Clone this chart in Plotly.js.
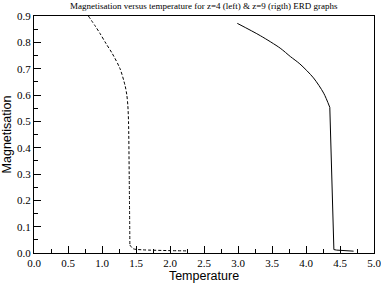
<!DOCTYPE html>
<html>
<head>
<meta charset="utf-8">
<script src="https://cdn.plot.ly/plotly-3.0.1.min.js"></script>
<style>html,body{margin:0;padding:0;background:#fff;}#chart{width:381px;height:283px;}</style>
</head>
<body>
<div id="chart"></div>
<script>
// z=4 (left, dashed): smooth branch, then the tail after the drop
const tempZ4 = [0.80, 0.90, 0.97, 1.06, 1.15, 1.265, 1.34, 1.365, 1.38, 1.39, 1.40, 1.41];
const magZ4  = [0.90, 0.862, 0.834, 0.795, 0.758, 0.700, 0.635, 0.600, 0.560, 0.500, 0.300, 0.030];
const tempZ4Tail = [1.41, 1.46, 1.60, 2.00, 2.25];
const magZ4Tail  = [0.030, 0.016, 0.012, 0.009, 0.008];
// z=9 (right, solid): smooth branch, then the drop and tail
const tempZ9 = [2.99, 3.33, 3.62, 3.77, 3.91, 4.11, 4.26, 4.35];
const magZ9  = [0.872, 0.825, 0.778, 0.746, 0.718, 0.665, 0.607, 0.553];
const tempZ9Tail = [4.35, 4.41, 4.45, 4.70];
const magZ9Tail  = [0.553, 0.013, 0.011, 0.007];

const xTicks = [0, 0.5, 1, 1.5, 2, 2.5, 3, 3.5, 4, 4.5, 5];
const xTickText = ['0.0','0.5','1.0','1.5','2.0','2.5','3.0','3.5','4.0','4.5','5.0'];
const yTicks = [0, 0.1, 0.2, 0.3, 0.4, 0.5, 0.6, 0.7, 0.8, 0.9];
const yTickText = ['0.0','0.1','0.2','0.3','0.4','0.5','0.6','0.7','0.8','0.9'];

const serif = '"Liberation Serif", "Times New Roman", serif';
const sans = '"Liberation Sans", Arial, sans-serif';

const dashed = {color: '#000', width: 1, dash: '3px,2px'};
const solid = {color: '#000', width: 1};
const traces = [
  {x: tempZ4, y: magZ4, mode: 'lines', line: Object.assign({shape: 'spline', smoothing: 0.8}, dashed), hoverinfo: 'skip'},
  {x: tempZ4Tail, y: magZ4Tail, mode: 'lines', line: Object.assign({shape: 'spline', smoothing: 0.6}, dashed), hoverinfo: 'skip'},
  {x: tempZ9, y: magZ9, mode: 'lines', line: Object.assign({shape: 'spline', smoothing: 0.8}, solid), hoverinfo: 'skip'},
  {x: tempZ9Tail, y: magZ9Tail, mode: 'lines', line: solid, hoverinfo: 'skip'}
];

const layout = {
  width: 381, height: 283,
  margin: {l: 34, r: 7, t: 16, b: 30},
  paper_bgcolor: '#fff', plot_bgcolor: '#fff',
  showlegend: false,
  title: {text: 'Magnetisation versus temperature for z=4 (left) & z=9 (rigth) ERD graphs',
          font: {family: serif, size: 9, color: '#000'},
          x: 0.535, xanchor: 'center', y: 0.978, yanchor: 'middle', yref: 'container'},
  xaxis: {
    range: [0, 5], tickvals: xTicks, ticktext: xTickText,
    ticks: 'inside', ticklen: 7, tickcolor: '#000', tickwidth: 1,
    minor: {ticks: 'inside', ticklen: 4, dtick: 0.25, tickcolor: '#000', tickwidth: 1, showgrid: false},
    showline: true, linecolor: '#000', linewidth: 1, mirror: true,
    showgrid: false, zeroline: false, ticklabeloverflow: 'allow',
    tickfont: {family: serif, size: 11, color: '#000'},
    title: {text: 'Temperature', font: {family: sans, size: 12.5, color: '#000'}, standoff: 3}
  },
  yaxis: {
    range: [0, 0.9], tickvals: yTicks, ticktext: yTickText,
    ticks: 'inside', ticklen: 7, tickcolor: '#000', tickwidth: 1,
    minor: {ticks: 'inside', ticklen: 4, dtick: 0.05, tickcolor: '#000', tickwidth: 1, showgrid: false},
    showline: true, linecolor: '#000', linewidth: 1, mirror: true,
    showgrid: false, zeroline: false, ticklabeloverflow: 'allow',
    tickfont: {family: serif, size: 11, color: '#000'},
    title: {text: 'Magnetisation', font: {family: sans, size: 12.5, color: '#000'}, standoff: 2}
  }
};

Plotly.newPlot('chart', traces, layout, {staticPlot: true, displayModeBar: false});
</script>
</body>
</html>
